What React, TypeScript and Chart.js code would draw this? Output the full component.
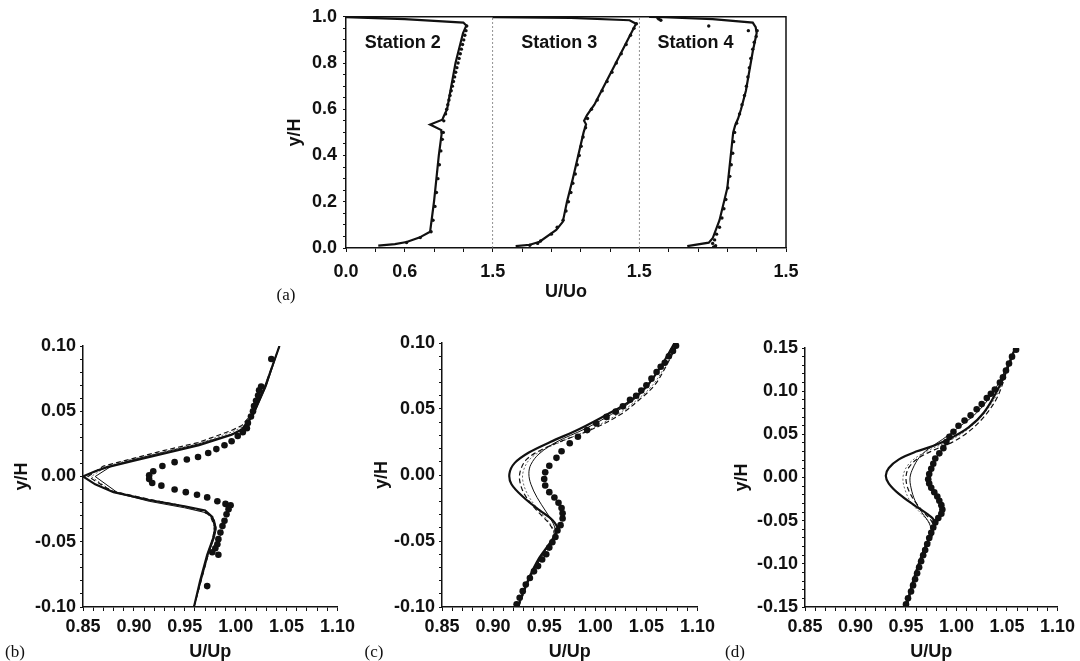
import React, { useEffect, useRef } from 'react';
import { Chart, registerables } from 'chart.js';
Chart.register(...registerables);

type Pt = [number, number];

// ---------- Panel (a): U/Uo profiles, three stations side by side ----------
const stationNames = ['Station 2', 'Station 3', 'Station 4'];
const stationOffsets = [0, 1.5, 3.0];
const stationLabelX = [0.58, 2.18, 3.575];
const stationLabelY = 0.888;
const stationBounds = [1.5, 3.0];

const aXTickValues = [0, 0.6, 1.5, 3.0, 4.5];
const aXTickLabels = ['0.0', '0.6', '1.5', '1.5', '1.5'];
const aYTickValues = [0, 0.2, 0.4, 0.6, 0.8, 1.0];
const aYTickLabels = ['0.0', '0.2', '0.4', '0.6', '0.8', '1.0'];

const st2Line: Pt[] = [
  [0.33, 0.01], [0.5, 0.017], [0.62, 0.026], [0.75, 0.045], [0.86, 0.07], [0.9, 0.2], [0.949, 0.4],
  [0.98, 0.5], [0.975, 0.51], [0.86, 0.534], [0.985, 0.555], [1.0, 0.57], [1.034, 0.6], [1.12, 0.8],
  [1.197, 0.93], [1.23, 0.962], [1.2, 0.975], [0.6, 0.99], [0.0, 0.999],
];
const st2Dots: Pt[] = [
  [0.62, 0.024], [0.76, 0.045], [0.87, 0.07], [0.89, 0.12], [0.91, 0.18], [0.925, 0.24], [0.94, 0.3],
  [0.955, 0.36], [0.97, 0.42], [0.985, 0.47], [0.995, 0.5], [1.0, 0.55], [1.018, 0.58], [1.03, 0.6],
  [1.041, 0.62], [1.053, 0.64], [1.064, 0.66], [1.076, 0.68], [1.088, 0.7], [1.099, 0.72], [1.111, 0.74],
  [1.122, 0.76], [1.134, 0.78], [1.146, 0.8], [1.157, 0.82], [1.169, 0.84], [1.18, 0.86], [1.192, 0.88],
  [1.204, 0.9], [1.215, 0.92], [1.227, 0.94], [1.235, 0.96],
];

const st3Line: Pt[] = [
  [0.235, 0.008], [0.38, 0.014], [0.48, 0.027], [0.65, 0.078], [0.717, 0.113], [0.76, 0.2], [0.82, 0.3],
  [0.875, 0.4], [0.93, 0.5], [0.955, 0.535], [0.935, 0.55], [0.965, 0.575], [1.04, 0.62], [1.26, 0.8],
  [1.466, 0.97], [1.4, 0.985], [0.8, 0.995], [0.0, 0.999],
];
const st3Dots: Pt[] = [
  [0.38, 0.012], [0.46, 0.02], [0.49, 0.03], [0.6, 0.06], [0.66, 0.09], [0.72, 0.12], [0.75, 0.16],
  [0.775, 0.2], [0.8, 0.24], [0.82, 0.28], [0.845, 0.32], [0.865, 0.36], [0.885, 0.4], [0.905, 0.44],
  [0.925, 0.48], [0.95, 0.52], [0.97, 0.56], [1.01, 0.6], [1.07, 0.64], [1.12, 0.68], [1.17, 0.72],
  [1.22, 0.76], [1.265, 0.8], [1.315, 0.84], [1.365, 0.88], [1.41, 0.92], [1.445, 0.95], [1.47, 0.97],
];

const st4Line: Pt[] = [
  [0.49, 0.008], [0.71, 0.023], [0.75, 0.042], [0.82, 0.12], [0.9, 0.26], [0.95, 0.46], [0.96, 0.5],
  [0.98, 0.53], [1.01, 0.56], [1.04, 0.6], [1.09, 0.68], [1.16, 0.85], [1.2, 0.93], [1.19, 0.955],
  [1.16, 0.975], [0.75, 0.99], [0.25, 0.998], [0.1, 1.0],
];
const st4Dots: Pt[] = [
  [0.76, 0.005], [0.78, 0.01], [0.75, 0.02], [0.77, 0.035], [0.79, 0.06], [0.82, 0.09], [0.845, 0.13],
  [0.865, 0.17], [0.885, 0.21], [0.905, 0.26], [0.925, 0.31], [0.94, 0.36], [0.955, 0.41], [0.965, 0.46],
  [0.975, 0.5], [0.995, 0.54], [1.025, 0.58], [1.05, 0.62], [1.075, 0.66], [1.095, 0.7], [1.11, 0.74],
  [1.125, 0.78], [1.14, 0.82], [1.16, 0.86], [1.175, 0.89], [1.195, 0.915], [1.205, 0.94], [1.115, 0.94],
  [0.71, 0.96], [0.2, 0.99], [0.22, 0.985], [0.19, 0.995],
];

// ---------- Panels (b), (c), (d): U/Up near the wake ----------
const upXTickValues = [0.85, 0.9, 0.95, 1.0, 1.05, 1.1];
const upXTickLabels = ['0.85', '0.90', '0.95', '1.00', '1.05', '1.10'];
const bcYTickValues = [-0.1, -0.05, 0, 0.05, 0.1];
const bcYTickLabels = ['-0.10', '-0.05', '0.00', '0.05', '0.10'];
const dYTickValues = [-0.15, -0.1, -0.05, 0, 0.05, 0.1, 0.15];
const dYTickLabels = ['-0.15', '-0.10', '-0.05', '0.00', '0.05', '0.10', '0.15'];

const bDots: Pt[] = [
  [1.035, 0.09], [1.025, 0.069], [1.023, 0.066], [1.022, 0.062], [1.02, 0.058], [1.018, 0.054],
  [1.017, 0.05], [1.015, 0.046], [1.012, 0.041], [1.011, 0.037], [1.007, 0.034], [1.002, 0.031],
  [0.996, 0.027], [0.989, 0.024], [0.981, 0.021], [0.973, 0.018], [0.963, 0.015], [0.952, 0.013],
  [0.94, 0.011], [0.928, 0.008], [0.919, 0.004], [0.915, 0.001], [0.915, -0.002], [0.918, -0.005],
  [0.927, -0.007], [0.94, -0.01], [0.951, -0.012], [0.962, -0.014], [0.972, -0.016], [0.982, -0.019],
  [0.99, -0.021], [0.995, -0.022], [0.993, -0.025], [0.991, -0.029], [0.989, -0.034], [0.987, -0.038],
  [0.985, -0.043], [0.983, -0.048], [0.982, -0.052], [0.98, -0.055], [0.983, -0.06], [0.977, -0.058],
  [0.972, -0.084],
];
const bModel1: Pt[] = [
  [0.959, -0.1], [0.965, -0.08], [0.972, -0.06], [0.978, -0.047], [0.98, -0.039], [0.977, -0.031],
  [0.97, -0.026], [0.951, -0.023], [0.915, -0.018], [0.88, -0.012], [0.862, -0.006], [0.85, 0.0],
  [0.862, 0.004], [0.873, 0.007], [0.899, 0.012], [0.932, 0.018], [0.964, 0.024], [0.996, 0.032],
  [1.006, 0.036], [1.016, 0.046], [1.029, 0.069], [1.043, 0.1],
];
const bModel2: Pt[] = [
  [0.959, -0.1], [0.966, -0.08], [0.973, -0.06], [0.979, -0.047], [0.981, -0.04], [0.979, -0.033],
  [0.972, -0.028], [0.95, -0.024], [0.915, -0.019], [0.885, -0.013], [0.862, 0.0], [0.878, 0.008],
  [0.9, 0.013], [0.932, 0.019], [0.964, 0.025], [0.998, 0.033], [1.008, 0.037], [1.017, 0.046],
  [1.03, 0.069], [1.043, 0.1],
];
const bModel3: Pt[] = [
  [0.959, -0.1], [0.966, -0.08], [0.973, -0.06], [0.978, -0.046], [0.979, -0.038], [0.975, -0.03],
  [0.966, -0.026], [0.945, -0.022], [0.912, -0.017], [0.878, -0.011], [0.855, 0.0], [0.87, 0.008],
  [0.895, 0.013], [0.93, 0.02], [0.963, 0.026], [0.995, 0.035], [1.006, 0.039], [1.016, 0.048],
  [1.029, 0.07], [1.043, 0.1],
];
const bModel4: Pt[] = [
  [0.959, -0.1], [0.966, -0.08], [0.972, -0.06], [0.978, -0.046], [0.98, -0.039], [0.976, -0.031],
  [0.968, -0.027], [0.948, -0.023], [0.913, -0.018], [0.88, -0.012], [0.858, 0.0], [0.874, 0.008],
  [0.897, 0.013], [0.93, 0.019], [0.963, 0.025], [0.996, 0.034], [1.007, 0.038], [1.016, 0.047],
  [1.029, 0.069], [1.043, 0.1],
];

const cDots: Pt[] = [
  [1.079, 0.098], [1.076, 0.094], [1.072, 0.09], [1.068, 0.085], [1.064, 0.082], [1.06, 0.078],
  [1.055, 0.073], [1.05, 0.068], [1.045, 0.064], [1.04, 0.06], [1.034, 0.057], [1.027, 0.052],
  [1.02, 0.048], [1.011, 0.044], [1.001, 0.039], [0.992, 0.034], [0.983, 0.029], [0.975, 0.024],
  [0.967, 0.018], [0.962, 0.013], [0.955, 0.007], [0.951, 0.002], [0.95, -0.003], [0.951, -0.008],
  [0.955, -0.013], [0.96, -0.017], [0.964, -0.021], [0.967, -0.025], [0.968, -0.029], [0.968, -0.033],
  [0.966, -0.038], [0.963, -0.042], [0.961, -0.047], [0.958, -0.051], [0.955, -0.055], [0.952, -0.06],
  [0.948, -0.064], [0.944, -0.069], [0.94, -0.073], [0.936, -0.078], [0.932, -0.083], [0.929, -0.088],
  [0.926, -0.093], [0.923, -0.098],
];
const cModel1: Pt[] = [
  [0.924, -0.1], [0.934, -0.08], [0.945, -0.063], [0.956, -0.051], [0.963, -0.041], [0.958, -0.034],
  [0.946, -0.027], [0.93, -0.017], [0.918, -0.007], [0.916, 0.001], [0.921, 0.009], [0.935, 0.017],
  [0.956, 0.025], [0.985, 0.035], [1.012, 0.046], [1.034, 0.056], [1.05, 0.067], [1.064, 0.082],
  [1.079, 0.102],
];
const cModel2: Pt[] = [
  [0.924, -0.1], [0.934, -0.08], [0.946, -0.063], [0.957, -0.051], [0.961, -0.044], [0.959, -0.037],
  [0.952, -0.028], [0.943, -0.017], [0.937, -0.007], [0.935, 0.001], [0.937, 0.008], [0.945, 0.016],
  [0.962, 0.025], [0.99, 0.035], [1.016, 0.046], [1.036, 0.056], [1.051, 0.067], [1.064, 0.082],
  [1.079, 0.102],
];
const cModel3: Pt[] = [
  [0.925, -0.1], [0.935, -0.08], [0.947, -0.063], [0.958, -0.052], [0.96, -0.045], [0.955, -0.037],
  [0.943, -0.027], [0.931, -0.015], [0.926, -0.004], [0.927, 0.004], [0.933, 0.012], [0.947, 0.019],
  [0.968, 0.026], [0.998, 0.035], [1.025, 0.046], [1.043, 0.057], [1.058, 0.068], [1.069, 0.082],
  [1.081, 0.1],
];
const cModel4: Pt[] = [
  [0.925, -0.1], [0.935, -0.08], [0.946, -0.063], [0.957, -0.052], [0.96, -0.045], [0.956, -0.037],
  [0.945, -0.027], [0.934, -0.015], [0.929, -0.004], [0.93, 0.004], [0.936, 0.012], [0.949, 0.019],
  [0.969, 0.026], [0.996, 0.035], [1.022, 0.046], [1.041, 0.057], [1.056, 0.068], [1.068, 0.082],
  [1.08, 0.1],
];

const dDots: Pt[] = [
  [1.059, 0.148], [1.055, 0.14], [1.052, 0.132], [1.049, 0.124], [1.046, 0.116], [1.043, 0.11],
  [1.038, 0.102], [1.034, 0.097], [1.03, 0.092], [1.025, 0.085], [1.02, 0.079], [1.014, 0.072],
  [1.008, 0.066], [1.002, 0.06], [0.997, 0.053], [0.993, 0.047], [0.99, 0.041], [0.987, 0.034],
  [0.983, 0.028], [0.979, 0.022], [0.977, 0.016], [0.975, 0.01], [0.973, 0.004], [0.972, -0.002],
  [0.973, -0.007], [0.975, -0.012], [0.978, -0.017], [0.981, -0.022], [0.983, -0.027], [0.985, -0.032],
  [0.986, -0.037], [0.985, -0.042], [0.982, -0.047], [0.979, -0.052], [0.977, -0.058], [0.975, -0.064],
  [0.973, -0.07], [0.971, -0.077], [0.969, -0.084], [0.967, -0.09], [0.965, -0.097], [0.963, -0.104],
  [0.961, -0.111], [0.959, -0.118], [0.957, -0.125], [0.955, -0.132], [0.952, -0.14], [0.95, -0.147],
];
const dModel1: Pt[] = [
  [0.95, -0.15], [0.957, -0.12], [0.964, -0.095], [0.971, -0.075], [0.977, -0.06], [0.978, -0.05],
  [0.972, -0.043], [0.958, -0.032], [0.943, -0.019], [0.933, -0.007], [0.93, 0.002], [0.933, 0.011],
  [0.943, 0.021], [0.96, 0.03], [0.978, 0.037], [0.995, 0.046], [1.012, 0.058], [1.027, 0.075],
  [1.04, 0.1], [1.05, 0.125], [1.058, 0.15],
];
const dModel2: Pt[] = [
  [0.95, -0.15], [0.957, -0.12], [0.965, -0.095], [0.971, -0.078], [0.975, -0.064], [0.973, -0.053],
  [0.966, -0.041], [0.959, -0.027], [0.955, -0.012], [0.954, 0.0], [0.957, 0.011], [0.963, 0.023],
  [0.972, 0.033], [0.986, 0.044], [1.002, 0.058], [1.02, 0.075], [1.036, 0.098], [1.048, 0.124],
  [1.058, 0.15],
];
const dModel3: Pt[] = [
  [0.951, -0.15], [0.958, -0.12], [0.966, -0.095], [0.973, -0.077], [0.977, -0.062], [0.976, -0.052],
  [0.969, -0.042], [0.959, -0.028], [0.952, -0.013], [0.95, 0.0], [0.953, 0.012], [0.963, 0.023],
  [0.978, 0.032], [0.996, 0.041], [1.012, 0.053], [1.027, 0.07], [1.04, 0.092], [1.049, 0.12],
  [1.058, 0.15],
];
const dModel4: Pt[] = [
  [0.951, -0.15], [0.958, -0.12], [0.965, -0.095], [0.972, -0.078], [0.976, -0.064], [0.974, -0.054],
  [0.966, -0.043], [0.955, -0.029], [0.949, -0.014], [0.947, 0.0], [0.951, 0.013], [0.961, 0.024],
  [0.975, 0.033], [0.992, 0.042], [1.009, 0.054], [1.025, 0.071], [1.039, 0.094], [1.049, 0.121],
  [1.058, 0.15],
];

// ---------- helpers ----------
const FONT = '"Liberation Sans", Arial, Helvetica, sans-serif';
const INK = '#111';

const toXY = (pts: Pt[], dx = 0) => pts.map(([x, y]) => ({ x: x + dx, y }));

function stepTicks(min: number, max: number, step: number) {
  const n = Math.round((max - min) / step);
  const out: { value: number }[] = [];
  for (let i = 0; i <= n; i++) out.push({ value: +(min + i * step).toFixed(6) });
  return out;
}

function labelFor(v: number, values: number[], labels: string[]) {
  const i = values.findIndex((t) => Math.abs(t - v) < 1e-6);
  return i >= 0 ? labels[i] : '';
}

interface AxisSpec {
  isX: boolean; min: number; max: number; step: number; values: number[]; labels: string[];
  size: number; tickPad: number; tickLen: number; title: string; titlePad: number;
}

function axis(s: AxisSpec) {
  return {
    type: 'linear',
    position: s.isX ? 'bottom' : 'left',
    min: s.min,
    max: s.max,
    afterBuildTicks: (sc: any) => { sc.ticks = stepTicks(s.min, s.max, s.step); },
    afterFit: (sc: any) => { if (s.isX) sc.height = s.size; else sc.width = s.size; },
    ticks: {
      autoSkip: false, maxRotation: 0, minRotation: 0, padding: s.tickPad, color: INK,
      font: { family: FONT, size: 18, weight: 'bold' },
      callback: (v: number) => labelFor(v, s.values, s.labels),
    },
    grid: { display: true, drawOnChartArea: false, drawTicks: true, tickLength: s.tickLen, color: INK, lineWidth: 1 },
    border: { display: true, color: INK, width: 1.5 },
    title: {
      display: true, text: s.title, color: INK,
      font: { family: FONT, size: 18, weight: 'bold' },
      padding: s.isX ? { top: 0, bottom: s.titlePad } : { top: s.titlePad, bottom: 0 },
    },
  };
}

const lineDs = (pts: Pt[], width: number, dash: number[], color: string, tension: number, dx = 0) => ({
  data: toXY(pts, dx), showLine: true, fill: false, pointRadius: 0, borderWidth: width,
  borderDash: dash, borderColor: color, backgroundColor: color, tension,
});
const dotDs = (pts: Pt[], r: number, dx = 0) => ({
  data: toXY(pts, dx), showLine: false, pointRadius: r, pointBorderWidth: 0,
  backgroundColor: INK, borderColor: INK, pointStyle: 'circle',
});

function baseOptions(scales: any, padding: any) {
  return {
    animation: false, responsive: false, devicePixelRatio: 1, events: [],
    layout: { padding },
    plugins: { legend: { display: false }, tooltip: { enabled: false }, title: { display: false } },
    scales,
  };
}

function configA() {
  const stations = [st2Line, st3Line, st4Line];
  const dots = [st2Dots, st3Dots, st4Dots];
  const datasets: any[] = [];
  dots.forEach((d, i) => datasets.push(dotDs(d, 1.7, stationOffsets[i])));
  stations.forEach((l, i) => datasets.push(lineDs(l, 2.2, [], INK, 0, stationOffsets[i])));
  stationBounds.forEach((b) => datasets.push(lineDs([[b, 0], [b, 1]], 0.8, [2, 2], '#777', 0)));
  const framePlugin = {
    id: 'frameA',
    afterDatasetsDraw(chart: any) {
      const { ctx, chartArea } = chart;
      const { left, right, top, bottom } = chartArea;
      ctx.save();
      ctx.strokeStyle = INK; ctx.lineWidth = 1.5;
      ctx.beginPath(); ctx.moveTo(left, top); ctx.lineTo(right, top); ctx.lineTo(right, bottom); ctx.stroke();
      const xs = chart.scales.x, ys = chart.scales.y;
      ctx.font = `bold 18px ${FONT}`; ctx.fillStyle = INK; ctx.textAlign = 'center'; ctx.textBaseline = 'middle';
      stationNames.forEach((n, i) => ctx.fillText(n, xs.getPixelForValue(stationLabelX[i]), ys.getPixelForValue(stationLabelY)));
      ctx.restore();
    },
  };
  return {
    type: 'scatter',
    data: { datasets },
    options: baseOptions({
      x: axis({ isX: true, min: 0, max: 4.5, step: 0.3, values: aXTickValues, labels: aXTickLabels, size: 62, tickPad: 9, tickLen: 4, title: 'U/Uo', titlePad: 7 }),
      y: axis({ isX: false, min: 0, max: 1, step: 0.05, values: aYTickValues, labels: aYTickLabels, size: 96, tickPad: 6, tickLen: 3, title: 'y/H', titlePad: 34 }),
    }, { top: 16, right: 24, left: 0, bottom: 0 }),
    plugins: [framePlugin],
  };
}

function configUp(dots: Pt[], models: Pt[][], ymin: number, ymax: number, yVals: number[], yLabels: string[],
  yw: number, padding: any, tension: number) {
  const datasets: any[] = [dotDs(dots, 3.3)];
  datasets.push(lineDs(models[0], 2.2, [], INK, tension));
  datasets.push(lineDs(models[1], 1, [], INK, tension));
  datasets.push(lineDs(models[2], 1.2, [5, 3], INK, tension));
  datasets.push(lineDs(models[3], 1, [2, 2], '#666', tension));
  return {
    type: 'scatter',
    data: { datasets },
    options: baseOptions({
      x: axis({ isX: true, min: 0.85, max: 1.1, step: 0.01, values: upXTickValues, labels: upXTickLabels, size: 58, tickPad: 5, tickLen: 4, title: 'U/Up', titlePad: 2 }),
      y: axis({ isX: false, min: ymin, max: ymax, step: 0.01, values: yVals, labels: yLabels, size: yw, tickPad: 4, tickLen: 3, title: 'y/H', titlePad: 11 }),
    }, padding),
  };
}

function ChartBox(props: { left: number; top: number; width: number; height: number; make: () => any }) {
  const ref = useRef<HTMLCanvasElement | null>(null);
  useEffect(() => {
    const c = new Chart(ref.current as HTMLCanvasElement, props.make());
    return () => c.destroy();
  }, []);
  const { left, top, width, height } = props;
  return (
    <div style={{ position: 'absolute', left, top, width, height }}>
      <canvas ref={ref} width={width} height={height} style={{ width, height, display: 'block' }} />
    </div>
  );
}

const panelTags = ['(a)', '(b)', '(c)', '(d)'];
const tagStyle = (left: number, top: number): React.CSSProperties => ({
  position: 'absolute', left, top, transform: 'translate(-50%, -50%)',
  fontFamily: '"Liberation Serif", "Times New Roman", serif', fontSize: 17, color: INK, whiteSpace: 'nowrap',
});

export default function App() {
  return (
    <div style={{ position: 'absolute', left: 0, top: 0, width: 1080, height: 661, overflow: 'hidden', background: '#fff' }}>
      <ChartBox left={250} top={0} width={560} height={310} make={configA} />
      <ChartBox left={0} top={330} width={360} height={335}
        make={() => configUp(bDots, [bModel1, bModel2, bModel3, bModel4], -0.1, 0.1, bcYTickValues, bcYTickLabels, 83, { top: 16, right: 20, left: 0, bottom: 0 }, 0)} />
      <ChartBox left={360} top={325} width={360} height={340}
        make={() => configUp(cDots, [cModel1, cModel2, cModel3, cModel4], -0.1, 0.1, bcYTickValues, bcYTickLabels, 82, { top: 18, right: 18, left: 0, bottom: 0 }, 0.35)} />
      <ChartBox left={720} top={330} width={360} height={335}
        make={() => configUp(dDots, [dModel1, dModel2, dModel3, dModel4], -0.15, 0.15, dYTickValues, dYTickLabels, 85, { top: 18, right: 20, left: 0, bottom: 0 }, 0.35)} />
      <div style={tagStyle(286, 295)}>{panelTags[0]}</div>
      <div style={tagStyle(15, 652)}>{panelTags[1]}</div>
      <div style={tagStyle(374, 652)}>{panelTags[2]}</div>
      <div style={tagStyle(735, 652)}>{panelTags[3]}</div>
    </div>
  );
}
